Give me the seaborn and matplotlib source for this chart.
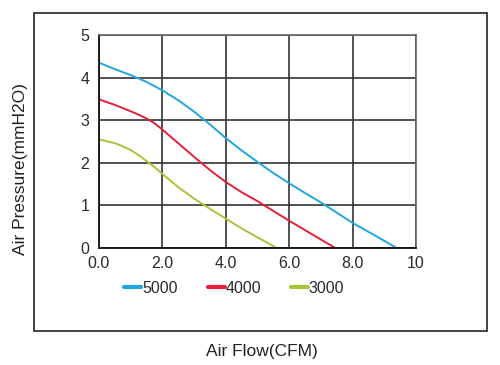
import matplotlib
matplotlib.use("Agg")
import matplotlib.pyplot as plt
import seaborn as sns
import pandas as pd
from matplotlib.patches import Rectangle

sns.set_theme(style="white")
plt.rcParams['font.family'] = ['Liberation Sans', 'DejaVu Sans']

flow_5000 = [0.0, 0.5, 1.0, 1.5, 2.0, 2.5, 3.0, 3.5, 4.0, 4.5, 5.0, 5.5, 6.0, 6.5, 7.0, 7.5, 8.0, 8.5, 9.0, 9.39]
pres_5000 = [4.35, 4.2, 4.06, 3.9, 3.7, 3.47, 3.2, 2.9, 2.58, 2.29, 2.02, 1.76, 1.52, 1.29, 1.07, 0.83, 0.59, 0.38, 0.17, 0.0]
flow_4000 = [0.0, 0.5, 1.0, 1.25, 1.5, 1.75, 2.0, 2.25, 2.5, 3.0, 3.5, 4.0, 4.5, 5.0, 5.5, 6.0, 6.5, 7.0, 7.46]
pres_4000 = [3.49, 3.36, 3.21, 3.13, 3.04, 2.93, 2.78, 2.62, 2.46, 2.14, 1.83, 1.55, 1.31, 1.1, 0.87, 0.64, 0.42, 0.2, 0.0]
flow_3000 = [0.0, 0.5, 0.75, 1.0, 1.25, 1.5, 1.75, 2.0, 2.5, 3.0, 3.5, 4.0, 4.5, 5.0, 5.61]
pres_3000 = [2.55, 2.46, 2.39, 2.3, 2.18, 2.04, 1.9, 1.74, 1.43, 1.16, 0.92, 0.69, 0.46, 0.25, 0.0]

series_names = ["5000", "4000", "3000"]
colors = ["#1ea7e1", "#e61e3c", "#a4c639"]
x_ticks = [0, 2, 4, 6, 8, 10]
x_tick_labels = ["0.0", "2.0", "4.0", "6.0", "8.0", "10"]
y_ticks = [0, 1, 2, 3, 4, 5]

frames = []
for name, fx, py in zip(series_names, [flow_5000, flow_4000, flow_3000],
                        [pres_5000, pres_4000, pres_3000]):
    frames.append(pd.DataFrame({"flow": fx, "pressure": py, "speed": name}))
df = pd.concat(frames, ignore_index=True)

fig = plt.figure(figsize=(5.0, 3.65), dpi=100)
ax = fig.add_axes([0.198, 0.3205, 0.634, 0.5835])

sns.lineplot(data=df, x="flow", y="pressure", hue="speed", hue_order=series_names,
             palette=colors, ax=ax, linewidth=1.4, sort=False)

ax.set_xlim(0, 10)
ax.set_ylim(0, 5)
ax.set_xticks(x_ticks)
ax.set_xticklabels(x_tick_labels)
ax.set_yticks(y_ticks)
ax.set_xlabel("")
ax.set_ylabel("")
ax.grid(True, color="#333333", linewidth=1.2)
ax.set_axisbelow(True)
for s in ["left", "bottom"]:
    ax.spines[s].set_color("#111111")
    ax.spines[s].set_linewidth(1.3)
for s in ["top", "right"]:
    ax.spines[s].set_color("#666666")
    ax.spines[s].set_linewidth(1.2)
ax.tick_params(axis="both", length=0, labelsize=11.5, colors="#2a2a2a")
ax.tick_params(axis="x", pad=6)
ax.tick_params(axis="y", pad=7)

leg = ax.legend(loc="center", bbox_to_anchor=(0.427, -0.19), ncol=3, frameon=False,
                handlelength=1.05, handletextpad=0.05, columnspacing=1.9, fontsize=11.5)
for line in leg.get_lines():
    line.set_linewidth(3)
for t in leg.get_texts():
    t.set_color("#2a2a2a")

fig.patches.append(Rectangle((0.068, 0.093), 0.906, 0.871, transform=fig.transFigure,
                             fill=False, edgecolor="#222222", linewidth=1.2))
fig.text(0.523, 0.036, "Air Flow(CFM)", ha="center", va="center", fontsize=12.5, color="#222222")
fig.text(0.041, 0.538, "Air Pressure(mmH2O)", ha="center", va="center", rotation=90,
         fontsize=12.5, color="#222222")

fig.savefig("out.png", dpi=100)
